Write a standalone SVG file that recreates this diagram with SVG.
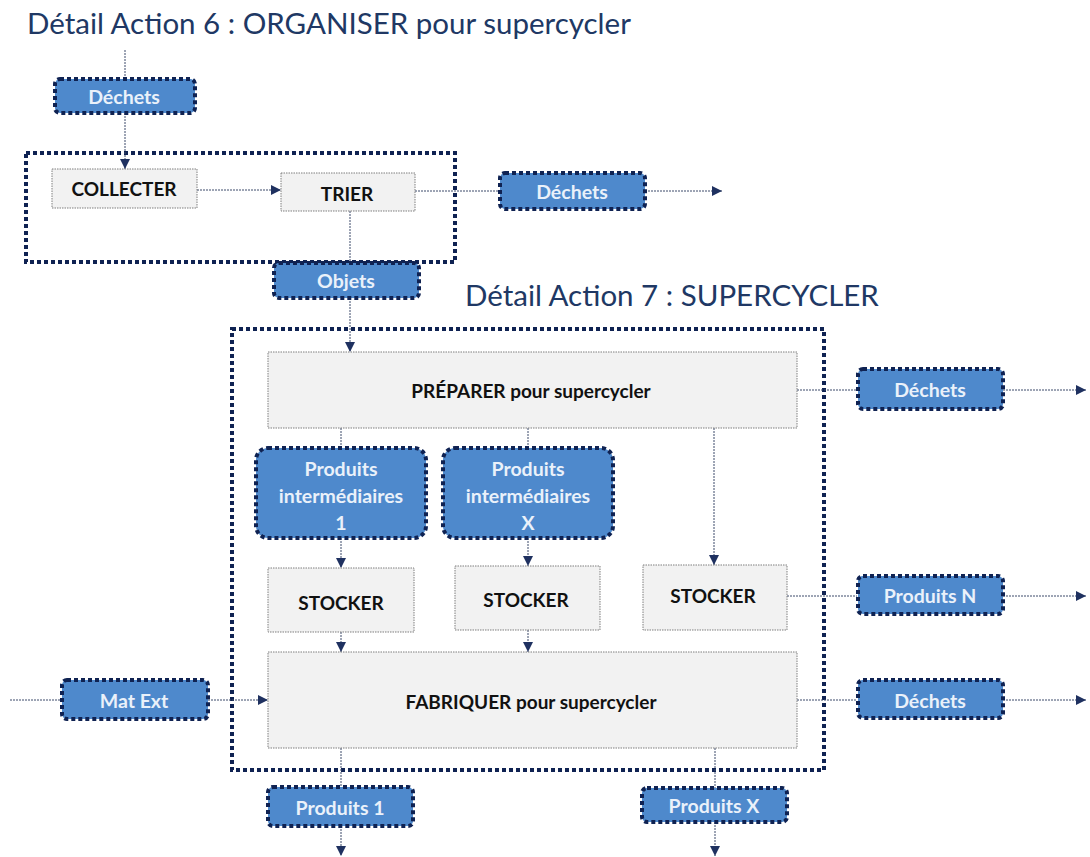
<svg xmlns="http://www.w3.org/2000/svg" width="1090" height="857" viewBox="0 0 1090 857">
<defs>
<marker id="arr" viewBox="0 0 10 10" refX="10" refY="5" markerWidth="10" markerHeight="10" markerUnits="userSpaceOnUse" orient="auto">
<path d="M0,0 L10,5 L0,10 z" fill="#1f3160"/>
</marker>
<style>
.title{font-family:Lato,"Liberation Sans",sans-serif;font-size:29.5px;fill:#203864}
.grp{fill:none;stroke:#0f2252;stroke-width:4;stroke-dasharray:4 3}
.proc{fill:#f2f2f2;stroke:#7f7f7f;stroke-width:1;stroke-dasharray:1.5 1}
.plab{font-family:Lato,"Liberation Sans",sans-serif;font-weight:bold;font-size:19px;fill:#111;text-anchor:middle;dominant-baseline:central}
.flow{fill:#4e89cc;stroke:#0f2252;stroke-width:4;stroke-dasharray:4 3}
.flab{font-family:Lato,"Liberation Sans",sans-serif;font-weight:bold;font-size:19.5px;fill:#eaf1fa;text-anchor:middle;dominant-baseline:central}
.con{fill:none;stroke:#3c4a6a;stroke-width:1;stroke-dasharray:2 1}
.ca{marker-end:url(#arr)}
</style>
</defs>
<rect width="1090" height="857" fill="#ffffff"/>
<text class="title" x="27" y="34">Détail Action 6 : ORGANISER pour supercycler</text>
<text class="title" x="465" y="306">Détail Action 7 : SUPERCYCLER</text>
<g id="group-action6"><rect class="grp" x="26" y="153" width="429" height="109"/></g>
<g id="group-action7"><rect class="grp" x="232" y="329" width="592" height="441"/></g>
<g id="connectors">
<line class="con" x1="125" y1="50" x2="125" y2="79"/>
<line class="con ca" x1="125" y1="113" x2="125" y2="169"/>
<line class="con ca" x1="197" y1="190" x2="281" y2="190"/>
<line class="con" x1="415" y1="191" x2="500" y2="191"/>
<line class="con ca" x1="645" y1="191" x2="722" y2="191"/>
<line class="con" x1="350" y1="211" x2="350" y2="263"/>
<line class="con ca" x1="350" y1="298" x2="350" y2="352"/>
<line class="con" x1="797" y1="390" x2="857" y2="390"/>
<line class="con ca" x1="1003" y1="390" x2="1086" y2="390"/>
<line class="con" x1="341" y1="428" x2="341" y2="448"/>
<line class="con ca" x1="341" y1="538" x2="341" y2="568"/>
<line class="con" x1="528" y1="428" x2="528" y2="448"/>
<line class="con ca" x1="528" y1="538" x2="528" y2="566"/>
<line class="con ca" x1="714" y1="428" x2="714" y2="565"/>
<line class="con" x1="787" y1="596" x2="857" y2="596"/>
<line class="con ca" x1="1003" y1="596" x2="1086" y2="596"/>
<line class="con ca" x1="341" y1="632" x2="341" y2="652"/>
<line class="con ca" x1="528" y1="630" x2="528" y2="652"/>
<line class="con" x1="10" y1="700" x2="61" y2="700"/>
<line class="con ca" x1="208" y1="700" x2="268" y2="700"/>
<line class="con" x1="797" y1="700" x2="857" y2="700"/>
<line class="con ca" x1="1003" y1="700" x2="1086" y2="700"/>
<line class="con" x1="341" y1="748" x2="341" y2="787"/>
<line class="con ca" x1="341" y1="826" x2="341" y2="856"/>
<line class="con" x1="715" y1="748" x2="715" y2="788"/>
<line class="con ca" x1="715" y1="822" x2="715" y2="856"/>
</g>
<g id="dechets-in"><rect class="flow" x="55" y="79" width="140" height="34" rx="5"/><text class="flab" x="124" y="96">Déchets</text></g>
<g id="collecter"><rect class="proc" x="52" y="169" width="145" height="39"/><text class="plab" x="124" y="188">COLLECTER</text></g>
<g id="trier"><rect class="proc" x="281" y="173" width="134" height="38"/><text class="plab" x="347" y="193">TRIER</text></g>
<g id="dechets-trier"><rect class="flow" x="500" y="173" width="145" height="36" rx="5"/><text class="flab" x="572" y="191">Déchets</text></g>
<g id="objets"><rect class="flow" x="274" y="263" width="145" height="35" rx="5"/><text class="flab" x="346" y="280">Objets</text></g>
<g id="preparer"><rect class="proc" x="268" y="352" width="529" height="76"/><text class="plab" x="531" y="390">PRÉPARER pour supercycler</text></g>
<g id="dechets-preparer"><rect class="flow" x="858" y="369" width="145" height="40" rx="5"/><text class="flab" x="930" y="389">Déchets</text></g>
<g id="produits-inter-1"><rect class="flow" x="256" y="448" width="170" height="90" rx="12"/><text class="flab" x="341" y="468">Produits</text><text class="flab" x="341" y="495">intermédiaires</text><text class="flab" x="341" y="522">1</text></g>
<g id="produits-inter-x"><rect class="flow" x="443" y="448" width="170" height="90" rx="12"/><text class="flab" x="528" y="468">Produits</text><text class="flab" x="528" y="495">intermédiaires</text><text class="flab" x="528" y="522">X</text></g>
<g id="stocker-1"><rect class="proc" x="268" y="568" width="146" height="64"/><text class="plab" x="341" y="602">STOCKER</text></g>
<g id="stocker-x"><rect class="proc" x="455" y="566" width="145" height="64"/><text class="plab" x="526" y="599">STOCKER</text></g>
<g id="stocker-n"><rect class="proc" x="643" y="565" width="144" height="65"/><text class="plab" x="713" y="595">STOCKER</text></g>
<g id="produits-n"><rect class="flow" x="858" y="576" width="145" height="38" rx="5"/><text class="flab" x="930" y="595">Produits N</text></g>
<g id="fabriquer"><rect class="proc" x="268" y="652" width="529" height="96"/><text class="plab" x="531" y="701">FABRIQUER pour supercycler</text></g>
<g id="mat-ext"><rect class="flow" x="62" y="680" width="146" height="39" rx="5"/><text class="flab" x="134" y="700">Mat Ext</text></g>
<g id="dechets-fabriquer"><rect class="flow" x="858" y="680" width="145" height="38" rx="5"/><text class="flab" x="930" y="700">Déchets</text></g>
<g id="produits-1"><rect class="flow" x="268" y="787" width="145" height="39" rx="5"/><text class="flab" x="340" y="807">Produits 1</text></g>
<g id="produits-x"><rect class="flow" x="642" y="788" width="145" height="34" rx="5"/><text class="flab" x="714" y="805">Produits X</text></g>
</svg>
